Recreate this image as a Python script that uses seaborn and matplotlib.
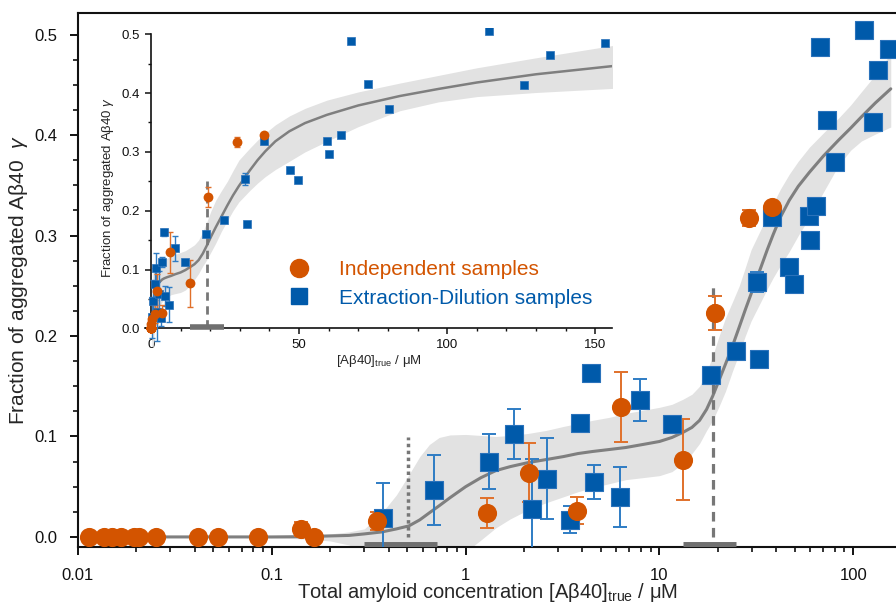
import numpy as np
import matplotlib
matplotlib.use("Agg")
import matplotlib.pyplot as plt
from matplotlib.lines import Line2D
from matplotlib.ticker import MultipleLocator, FuncFormatter, FixedLocator
import seaborn as sns

# independent samples (orange)
ind_x = [0.0114, 0.0136, 0.0150, 0.0167, 0.0195, 0.0207, 0.0253, 0.0417, 0.0529, 0.0851,
         0.141, 0.166, 0.349, 1.29, 2.12, 3.75, 6.34, 13.3, 19.4, 28.9, 38.1]
ind_y = [0, 0, 0, 0, 0, 0, 0, 0, 0, 0,
         0.008, 0, 0.016, 0.024, 0.064, 0.026, 0.129, 0.077, 0.223, 0.317, 0.328]
ind_err = [0, 0, 0, 0, 0, 0, 0, 0, 0, 0,
           0.007, 0, 0.009, 0.015, 0.029, 0.0135, 0.035, 0.04, 0.017, 0.008, 0.004]

# extraction-dilution samples (blue)
ext_x = [0.375, 0.687, 1.32, 1.77, 2.21, 2.64, 3.44, 3.87, 4.44, 4.62, 6.22, 7.98, 11.6,
         18.5, 24.7, 31.9, 32.5, 38.1, 46.8, 49.6, 59.3, 60.0, 64.3, 67.6, 73.1, 80.5,
         114, 125.8, 134.6, 153.4]
ext_y = [0.019, 0.047, 0.075, 0.1025, 0.028, 0.058, 0.017, 0.113, 0.163, 0.055, 0.040, 0.136, 0.112,
         0.161, 0.185, 0.254, 0.177, 0.318, 0.269, 0.252, 0.319, 0.296, 0.329, 0.488, 0.415, 0.373,
         0.505, 0.413, 0.465, 0.486]
ext_err = [0.035, 0.035, 0.027, 0.025, 0.05, 0.04, 0.0135, 0.008, 0.006, 0.017, 0.03, 0.021, 0.005,
           0.004, 0.004, 0.01, 0.003, 0.004, 0.004, 0.003, 0.003, 0.003, 0.003, 0.003, 0.003, 0.003,
           0.003, 0.003, 0.003, 0.003]

# fitted curve and confidence band
fit_x = [0.016, 0.05, 0.1, 0.15, 0.2, 0.25, 0.3, 0.37, 0.44, 0.51, 0.58, 0.65, 0.73, 0.83, 1.0,
         1.2, 1.43, 1.7, 2.1, 2.6, 3.2, 3.8, 4.5, 5.5, 6.7, 8.2, 10, 11.6, 13.2, 14.7, 16.1,
         17.5, 18.8, 20.3, 21.9, 23.8, 25.8, 27.7, 29.7, 33.3, 36, 38.6, 42, 46.7, 52, 59.4, 70,
         84, 97, 110, 130, 156]
fit_y = [0, 0, 0, 0.0003, 0.001, 0.0015, 0.003, 0.005, 0.008, 0.011, 0.017, 0.024, 0.031, 0.039, 0.050,
         0.059, 0.066, 0.070, 0.074, 0.077, 0.080, 0.083, 0.085, 0.087, 0.089, 0.092, 0.095, 0.099, 0.104,
         0.109, 0.116, 0.127, 0.140, 0.156, 0.172, 0.190, 0.209, 0.226, 0.242, 0.268, 0.286, 0.301, 0.318,
         0.335, 0.349, 0.363, 0.379, 0.395, 0.407, 0.418, 0.432, 0.446]
band_hi = [0, 0, 0.001, 0.002, 0.003, 0.005, 0.008, 0.024, 0.042, 0.062, 0.080, 0.092, 0.099, 0.1015, 0.102,
           0.101, 0.100, 0.101, 0.103, 0.106, 0.110, 0.113, 0.116, 0.119, 0.123, 0.126, 0.129, 0.132, 0.137,
           0.142, 0.150, 0.164, 0.180, 0.200, 0.218, 0.234, 0.250, 0.268, 0.286, 0.306, 0.320, 0.332, 0.346,
           0.361, 0.374, 0.388, 0.402, 0.417, 0.430, 0.443, 0.460, 0.481]
band_lo = [0, 0, -0.001, -0.002, -0.004, -0.008, -0.015, -0.030, -0.040, -0.045, -0.045, -0.040, -0.035,
           -0.027, -0.015, -0.003, 0.009, 0.018, 0.027, 0.034, 0.040, 0.045, 0.049, 0.053, 0.057, 0.059,
           0.061, 0.065, 0.073, 0.083, 0.093, 0.106, 0.116, 0.130, 0.145, 0.165, 0.183, 0.200, 0.215,
           0.234, 0.247, 0.258, 0.270, 0.284, 0.300, 0.318, 0.343, 0.370, 0.385, 0.394, 0.401, 0.408]

# transition midpoints with their ranges
mid_x = [0.504, 18.8]
mid_top = [0.099, 0.25]
range_lo = [0.30, 13.2]
range_hi = [0.71, 24.8]

orange = "#D35400"
orange_err = "#E0702A"
blue = "#005AAA"
blue_err = "#2E7CC4"
grey = "#7f7f7f"

sns.set_theme(style="ticks")
plt.rcParams['font.family'] = ['Liberation Sans', 'DejaVu Sans']
plt.rcParams['mathtext.fontset'] = 'custom'
plt.rcParams['mathtext.rm'] = 'Liberation Sans'
plt.rcParams['mathtext.it'] = 'Liberation Sans:italic'

fig = plt.figure(figsize=(8.96, 6.04), dpi=100)
ax = fig.add_axes([0.087, 0.0944, 0.913, 0.884])

# main panel (log scale)
ax.fill_between(fit_x, band_lo, band_hi, color="#e2e2e2", lw=0, zorder=1)
sns.lineplot(x=fit_x, y=fit_y, color=grey, lw=2.2, ax=ax, zorder=2)
ax.vlines(mid_x[0], 0, mid_top[0], colors="#777777", lw=2.5, linestyles=(0, (1, 1)), zorder=2)
ax.vlines(mid_x[1], 0, mid_top[1], colors="#777777", lw=2.3, linestyles=(0, (3, 2)), zorder=2)
ax.hlines([-0.008] * 2, range_lo, range_hi, colors="#707070", lw=5, zorder=3)

ax.errorbar(ext_x, ext_y, yerr=ext_err, fmt='none', ecolor=blue_err, elinewidth=1.4,
            capsize=5, capthick=1.4, zorder=4)
ax.errorbar(ind_x, ind_y, yerr=ind_err, fmt='none', ecolor=orange_err, elinewidth=1.4,
            capsize=5, capthick=1.4, zorder=4)
sns.scatterplot(x=ext_x, y=ext_y, marker='s', s=150, color=blue, edgecolor="#2a72bb",
                linewidth=0.8, ax=ax, zorder=5)
sns.scatterplot(x=ind_x, y=ind_y, marker='o', s=190, color=orange, edgecolor=orange,
                linewidth=0, ax=ax, zorder=6)

ax.set_xscale('log')
ax.set_xlim(0.01, 166)
ax.set_ylim(-0.01, 0.5214)
ax.xaxis.set_major_formatter(FuncFormatter(lambda v, p: f"{v:g}"))
ax.yaxis.set_major_locator(MultipleLocator(0.1))
ax.yaxis.set_minor_locator(MultipleLocator(0.025))
ax.yaxis.set_major_formatter(FuncFormatter(lambda v, p: f"{v:.1f}"))
ax.spines['right'].set_visible(False)
for s in ['left', 'bottom', 'top']:
    ax.spines[s].set_linewidth(1.5)
    ax.spines[s].set_color("#111111")
ax.tick_params(which='major', length=6, width=1.4, labelsize=12, colors="#111111")
ax.tick_params(which='minor', length=3.6, width=1.2, colors="#111111")
ax.tick_params(axis='y', which='major', pad=9)
ax.tick_params(axis='x', which='major', pad=9)
ax.set_xlabel("Total amyloid concentration [Aβ40]$_{\\mathrm{true}}$ / μM", fontsize=14.5, labelpad=-1)
ax.set_ylabel("Fraction of aggregated Aβ40  $\\gamma$", fontsize=15, labelpad=3)

leg_handles = [Line2D([], [], marker='o', ls='none', color=orange, markersize=13),
               Line2D([], [], marker='s', ls='none', color=blue, markersize=11)]
leg = ax.legend(leg_handles, ["Independent samples", "Extraction-Dilution samples"],
                loc='upper left', bbox_to_anchor=(0.222, 0.572), frameon=False, fontsize=15,
                handletextpad=0.9, labelspacing=0.45, labelcolor=[orange, blue])

# inset (linear scale)
ins = fig.add_axes([0.1618, 0.4272, 0.5212, 0.5258])
ins.patch.set_alpha(0)
ins.fill_between(fit_x, band_lo, band_hi, color="#e2e2e2", lw=0, zorder=1)
sns.lineplot(x=fit_x, y=fit_y, color=grey, lw=1.8, ax=ins, zorder=2)
ins.vlines(mid_x[1], 0, mid_top[1], colors="#777777", lw=2.0, linestyles=(0, (3, 2)), zorder=2)
ins.hlines(0.003, range_lo[1], range_hi[1], colors="#707070", lw=4, zorder=3)
ins.errorbar(ext_x, ext_y, yerr=ext_err, fmt='none', ecolor=blue_err, elinewidth=1.0,
             capsize=2.5, capthick=1.0, zorder=4)
ins.errorbar(ind_x, ind_y, yerr=ind_err, fmt='none', ecolor=orange_err, elinewidth=1.0,
             capsize=2.5, capthick=1.0, zorder=4)
sns.scatterplot(x=ext_x, y=ext_y, marker='s', s=40, color=blue, edgecolor="#2a72bb",
                linewidth=0.5, ax=ins, zorder=5)
sns.scatterplot(x=ind_x, y=ind_y, marker='o', s=50, color=orange, linewidth=0, ax=ins, zorder=6)

ins.set_xlim(-2, 155.6)
ins.set_ylim(-0.03, 0.51)
ins.spines['right'].set_visible(False)
ins.spines['top'].set_visible(False)
ins.spines['left'].set_position(('data', 0))
ins.spines['bottom'].set_position(('data', 0))
ins.spines['left'].set_bounds(0, 0.5)
for s in ['left', 'bottom']:
    ins.spines[s].set_linewidth(1.2)
    ins.spines[s].set_color("#111111")
ins.xaxis.set_major_locator(FixedLocator([0, 50, 100, 150]))
ins.xaxis.set_minor_locator(MultipleLocator(10))
ins.yaxis.set_major_locator(FixedLocator([0, 0.1, 0.2, 0.3, 0.4, 0.5]))
ins.yaxis.set_minor_locator(MultipleLocator(0.05))
ins.yaxis.set_major_formatter(FuncFormatter(lambda v, p: f"{v:.1f}"))
ins.tick_params(which='major', length=4, width=1.1, labelsize=9.5, colors="#111111", pad=4)
ins.tick_params(which='minor', length=2.5, width=1.0, colors="#111111")
ins.set_xlabel("[Aβ40]$_{\\mathrm{true}}$ / μM", fontsize=9.5, labelpad=1)
ins.set_ylabel("Fraction of aggregated Aβ40 $\\gamma$", fontsize=9.5, labelpad=4)

fig.savefig("out.png", dpi=100)
